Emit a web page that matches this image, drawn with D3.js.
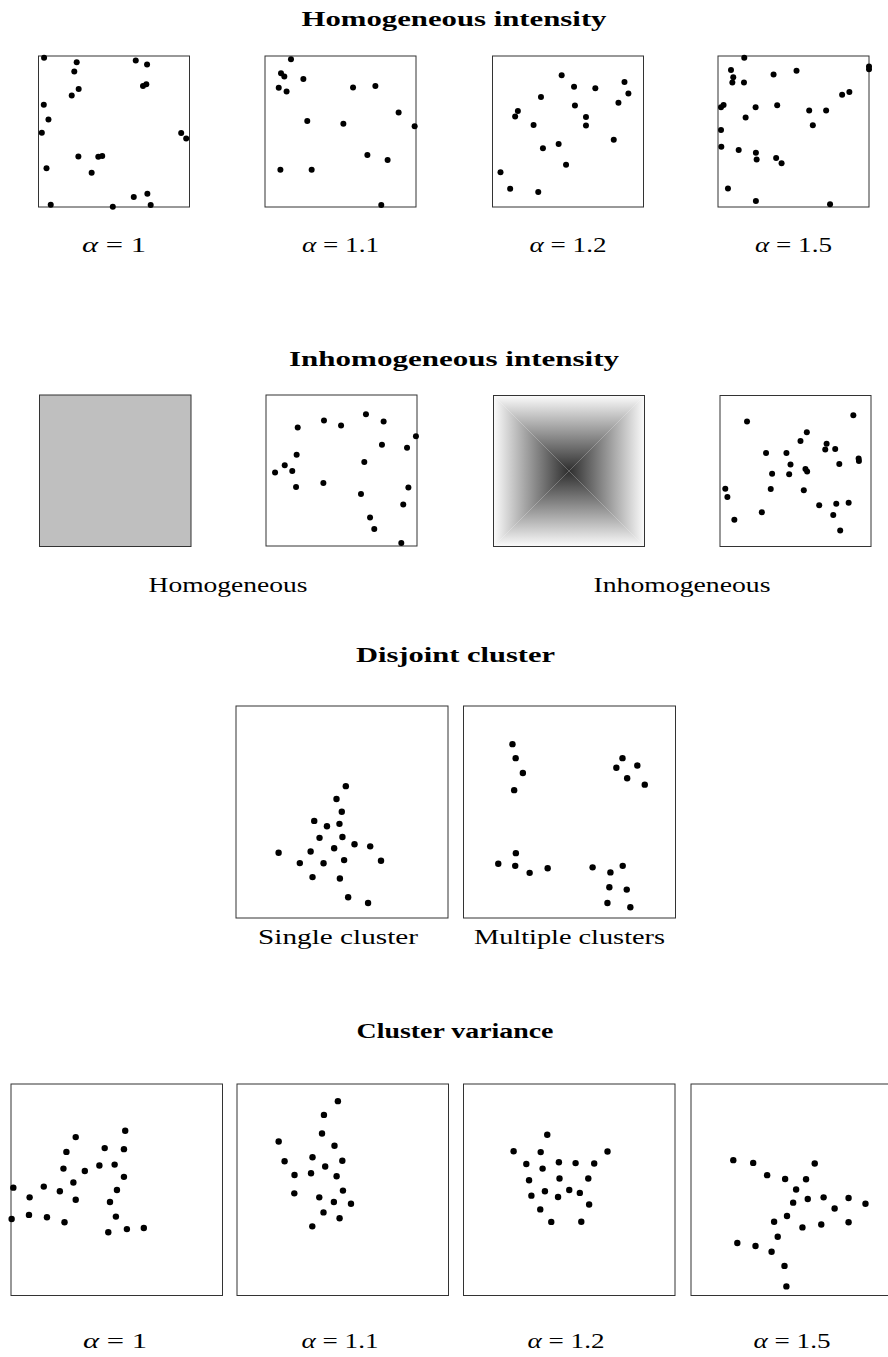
<!DOCTYPE html>
<html>
<head>
<meta charset="utf-8">
<script src="https://cdn.jsdelivr.net/npm/d3@7"></script>
<style>
  body { margin: 0; background: #fff; }
  text { font-family: "Liberation Serif", "DejaVu Serif", serif; fill: #000; }
</style>
</head>
<body>
<div></div>
<script>
// section titles and panel captions
const titles = ["Homogeneous intensity", "Inhomogeneous intensity", "Disjoint cluster", "Cluster variance"];
const alphas = ["1", "1.1", "1.2", "1.5"];
const intensityLabels = ["Homogeneous", "Inhomogeneous"];
const clusterLabels = ["Single cluster", "Multiple clusters"];

// point patterns, as fractions of the window (x right, y up)
const homAlpha1 = [[.037,.989],[.253,.958],[.237,.897],[.644,.971],[.719,.943],[.692,.802],[.714,.813],[.266,.782],
    [.220,.738],[.035,.677],[.066,.580],[.022,.492],[.945,.490],[.978,.453],[.264,.334],[.396,.332],[.422,.338],
    [.053,.257],[.352,.226],[.631,.066],[.721,.088],[.081,.015],[.492,.002],[.743,.013]];
const homAlpha11 = [[.172,.978],[.106,.886],[.128,.864],[.254,.848],[.091,.789],[.143,.765],[.583,.791],[.731,.802],
    [.885,.626],[.991,.534],[.280,.569],[.519,.552],[.678,.345],[.812,.312],[.102,.246],[.309,.246],[.770,.013]];
const homAlpha12 = [[.458,.872],[.540,.797],[.681,.786],[.874,.828],[.900,.751],[.321,.728],[.834,.691],[.546,.673],
    [.168,.636],[.150,.600],[.619,.596],[.619,.539],[.272,.543],[.803,.446],[.438,.417],[.334,.389],[.487,.280],
    [.053,.230],[.117,.121],[.303,.099]];
const homAlpha15 = [[.174,.989],[.086,.907],[.101,.860],[.095,.825],[.172,.825],[.368,.878],[.520,.902],[1.0,.931],
    [1.0,.912],[.822,.743],[.870,.761],[.020,.661],[.037,.676],[.249,.661],[.392,.674],[.604,.639],[.716,.639],
    [.183,.592],[.628,.541],[.020,.510],[.022,.399],[.137,.377],[.251,.359],[.256,.315],[.385,.324],[.421,.290],
    [.066,.122],[.251,.040],[.742,.018]];
const homSample = [[.210,.785],[.384,.831],[.497,.798],[.662,.873],[.779,.824],[.993,.727],[.768,.670],[.934,.651],
    [.203,.604],[.124,.534],[.174,.497],[.060,.486],[.651,.556],[.199,.391],[.380,.418],[.629,.345],[.943,.387],
    [.909,.275],[.689,.189],[.717,.112],[.896,.020]];
const inhomSample = [[.179,.828],[.883,.870],[.575,.757],[.533,.698],[.706,.680],[.697,.642],[.763,.645],[.305,.620],
    [.440,.620],[.918,.583],[.920,.567],[.467,.543],[.790,.547],[.566,.514],[.577,.497],[.345,.481],[.458,.479],
    [.035,.382],[.049,.327],[.336,.380],[.555,.373],[.657,.274],[.770,.283],[.852,.289],[.277,.227],[.750,.208],
    [.095,.177],[.796,.106]];
const singleCluster = [[.518,.622],[.474,.561],[.499,.501],[.369,.458],[.429,.433],[.488,.444],[.394,.378],[.502,.382],
    [.559,.348],[.633,.338],[.201,.308],[.352,.314],[.463,.329],[.301,.259],[.413,.258],[.510,.273],[.684,.270],
    [.361,.193],[.490,.186],[.529,.098],[.623,.071]];
const multiCluster = [[.231,.820],[.246,.754],[.280,.684],[.239,.603],[.750,.754],[.721,.709],[.820,.719],[.772,.659],
    [.855,.629],[.247,.306],[.164,.256],[.244,.246],[.312,.213],[.397,.235],[.609,.239],[.693,.215],[.751,.246],
    [.688,.145],[.770,.134],[.679,.071],[.787,.051]];
const varAlpha1 = [[.306,.749],[.540,.779],[.262,.679],[.443,.697],[.534,.692],[.248,.600],[.349,.589],[.418,.615],
    [.490,.619],[.534,.561],[.011,.510],[.088,.464],[.155,.515],[.231,.493],[.295,.534],[.306,.453],[.501,.499],
    [.468,.442],[.003,.362],[.085,.381],[.170,.370],[.253,.346],[.496,.373],[.460,.299],[.548,.314],[.628,.319]];
const varAlpha11 = [[.477,.919],[.411,.854],[.402,.766],[.461,.708],[.197,.728],[.225,.635],[.357,.654],[.417,.610],
    [.498,.637],[.272,.570],[.350,.578],[.471,.564],[.271,.483],[.389,.464],[.458,.442],[.501,.496],[.539,.434],
    [.409,.393],[.485,.365],[.356,.327]];
const varAlpha12 = [[.396,.760],[.237,.682],[.365,.678],[.681,.681],[.297,.622],[.374,.600],[.451,.630],[.530,.626],
    [.618,.624],[.310,.545],[.454,.553],[.590,.553],[.321,.472],[.385,.493],[.447,.466],[.500,.499],[.550,.485],
    [.594,.430],[.363,.407],[.415,.348],[.557,.349]];
const varAlpha15 = [[.200,.640],[.294,.627],[.585,.624],[.360,.569],[.445,.551],[.544,.550],[.497,.501],[.483,.439],
    [.552,.456],[.627,.464],[.745,.461],[.825,.434],[.679,.411],[.454,.376],[.393,.349],[.527,.322],[.616,.336],
    [.745,.346],[.410,.278],[.219,.248],[.305,.234],[.381,.207],[.442,.140],[.451,.043]];

const W = 888, H = 1357;
const svg = d3.select("body div")
    .append("svg")
    .attr("width", W)
    .attr("height", H);
svg.append("rect").attr("width", W).attr("height", H).attr("fill", "#fff");
const defs = svg.append("defs");

// draw one window with its points
function drawPanel(x0, y0, size, pts, r, fill) {
    const x = d3.scaleLinear().domain([0, 1]).range([0, size]);
    const y = d3.scaleLinear().domain([0, 1]).range([size, 0]);
    const g = svg.append("g").attr("transform", `translate(${x0},${y0})`);
    g.append("rect")
        .attr("width", size)
        .attr("height", size)
        .attr("fill", fill || "#fff")
        .attr("stroke", "#333")
        .attr("stroke-width", 1);
    g.selectAll("circle")
        .data(pts || [])
        .join("circle")
        .attr("cx", d => x(d[0]))
        .attr("cy", d => y(d[1]))
        .attr("r", r)
        .attr("fill", "#000");
    return { g, x, y };
}

// intensity that darkens towards the centre (pyramid shape)
function drawPyramid(x0, y0, size) {
    const { g, x, y } = drawPanel(x0, y0, size, [], 0, "#fff");
    const edge = "#fbfbfb", centre = "#2e2e2e";
    const c = [x(0.5), y(0.5)];
    const sides = [
        { pts: [[x(0), y(1)], [x(1), y(1)], c], from: [x(0.5), y(1)] },
        { pts: [[x(1), y(1)], [x(1), y(0)], c], from: [x(1), y(0.5)] },
        { pts: [[x(1), y(0)], [x(0), y(0)], c], from: [x(0.5), y(0)] },
        { pts: [[x(0), y(0)], [x(0), y(1)], c], from: [x(0), y(0.5)] }
    ];
    sides.forEach((s, i) => {
        const id = "pyr" + i;
        // user space of the path is the panel's own (translated) frame
        const lg = defs.append("linearGradient")
            .attr("id", id)
            .attr("gradientUnits", "userSpaceOnUse")
            .attr("x1", s.from[0]).attr("y1", s.from[1])
            .attr("x2", c[0]).attr("y2", c[1]);
        lg.append("stop").attr("offset", 0).attr("stop-color", edge);
        lg.append("stop").attr("offset", 1).attr("stop-color", centre);
        g.append("path")
            .attr("d", d3.line()(s.pts) + "Z")
            .attr("fill", `url(#${id})`);
    });
    g.append("rect")
        .attr("width", size).attr("height", size)
        .attr("fill", "none").attr("stroke", "#333");
}

function title(txt, cx, base, len) {
    svg.append("text")
        .attr("x", cx).attr("y", base)
        .attr("text-anchor", "middle")
        .attr("font-weight", "bold")
        .style("font-size", "20px")
        .attr("textLength", len)
        .attr("lengthAdjust", "spacingAndGlyphs")
        .text(txt);
}

function caption(txt, cx, base, len) {
    svg.append("text")
        .attr("x", cx).attr("y", base)
        .attr("text-anchor", "middle")
        .style("font-size", "22px")
        .attr("textLength", len)
        .attr("lengthAdjust", "spacingAndGlyphs")
        .text(txt);
}

function alphaCaption(a, cx, base) {
    const t = svg.append("text")
        .attr("x", cx).attr("y", base)
        .attr("text-anchor", "middle")
        .style("font-size", "22px")
        .attr("textLength", a.length > 1 ? 77 : 64)
        .attr("lengthAdjust", "spacingAndGlyphs");
    t.append("tspan").style("font-style", "italic").text("α");
    t.append("tspan").text(" = " + a);
}

// Homogeneous intensity
title(titles[0], 454, 26, 305);
const row1 = [homAlpha1, homAlpha11, homAlpha12, homAlpha15];
const row1x = [38.5, 265, 492.5, 718];
row1.forEach((pts, i) => {
    drawPanel(row1x[i], 56, 151, pts, 3);
    alphaCaption(alphas[i], row1x[i] + 75.5, 252);
});

// Inhomogeneous intensity
title(titles[1], 454, 366, 330);
drawPanel(39.5, 395, 151.5, [], 0, "#bfbfbf");
drawPanel(266, 395, 151, homSample, 3);
drawPyramid(493.5, 395.5, 151);
drawPanel(720, 395.5, 151, inhomSample, 3);
caption(intensityLabels[0], 228, 592, 159);
caption(intensityLabels[1], 682, 592, 177);

// Disjoint cluster
title(titles[2], 455.5, 662, 199);
drawPanel(236, 706, 212, singleCluster, 3.2);
drawPanel(463.5, 706, 212, multiCluster, 3.2);
caption(clusterLabels[0], 338, 944, 160);
caption(clusterLabels[1], 569.5, 944, 191);

// Cluster variance
title(titles[3], 455, 1038, 197);
const row4 = [varAlpha1, varAlpha11, varAlpha12, varAlpha15];
const row4x = [11, 237, 463.5, 691];
const row4lab = [115, 340, 566, 792];
row4.forEach((pts, i) => {
    drawPanel(row4x[i], 1084, 211.5, pts, 3.2);
    alphaCaption(alphas[i], row4lab[i], 1348);
});
</script>
</body>
</html>
